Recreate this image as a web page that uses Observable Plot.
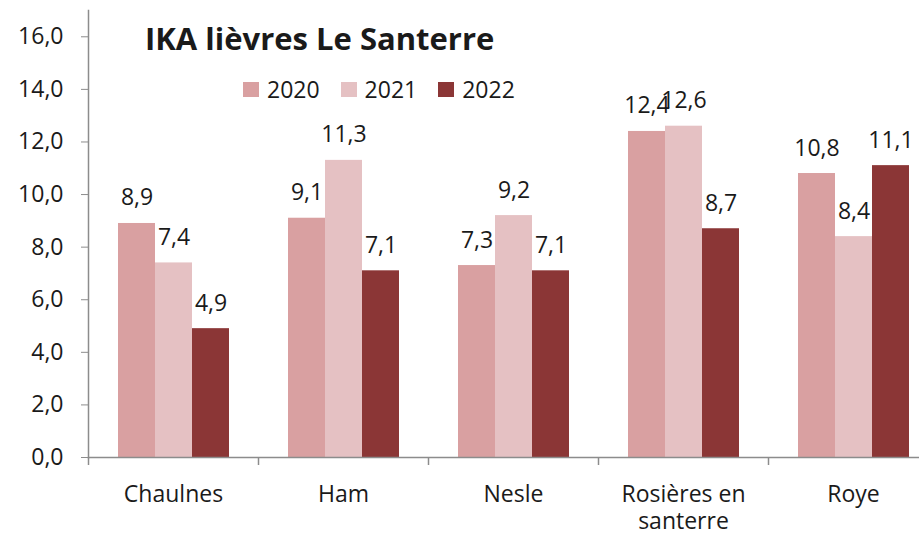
<!DOCTYPE html>
<html>
<head>
<meta charset="utf-8">
<script src="https://cdn.jsdelivr.net/npm/d3@7"></script>
<script src="https://cdn.jsdelivr.net/npm/@observablehq/plot@0.6"></script>
<style>
  body { margin: 0; background: #fff; }
  #wrap { position: relative; width: 919px; height: 534px; font-family: "Open Sans", sans-serif; color: #1a1a1a; overflow: hidden; }
  #title { position: absolute; left: 145px; top: 23px; font-weight: bold; font-size: 31px; line-height: 1; white-space: nowrap; }
  #legend { position: absolute; left: 243px; top: 78px; display: flex; font-size: 23px; line-height: 1; white-space: nowrap; }
  #legend .item { display: flex; align-items: center; margin-right: 21px; }
  #legend .sw { width: 16px; height: 15px; margin-right: 8px; }
  #chart { position: absolute; left: 0; top: 0; }
</style>
</head>
<body>
<div id="wrap">
  <div id="chart"></div>
  <div id="title"></div>
  <div id="legend"></div>
</div>
<script>
const titleText = "IKA lièvres Le Santerre";
const communes = ["Chaulnes", "Ham", "Nesle", "Rosières en santerre", "Roye"];
const years = ["2020", "2021", "2022"];
const v2020 = [8.9, 9.1, 7.3, 12.4, 10.8];
const v2021 = [7.4, 11.3, 9.2, 12.6, 8.4];
const v2022 = [4.9, 7.1, 7.1, 8.7, 11.1];
const colors = ["#d9a0a1", "#e5c1c3", "#8b3636"];
const yTicks = [0, 2, 4, 6, 8, 10, 12, 14, 16];

const series = [v2020, v2021, v2022];
const data = [];
communes.forEach((c, i) => years.forEach((y, k) => data.push({commune: c, year: y, value: series[k][i]})));

const fmt = d => d3.format(".1f")(d).replace(".", ",");
const wrapLabel = d => d.replace(" santerre", "\nsanterre");
const axisGray = "#8c8c8c";
const textColor = "#1a1a1a";

const chart = Plot.plot({
  width: 919,
  height: 534,
  marginLeft: 88,
  marginRight: -20,
  marginTop: 10,
  marginBottom: 77,
  style: {fontFamily: "Open Sans, sans-serif", fontSize: "23px", color: textColor, background: "transparent"},
  fx: {domain: communes, paddingInner: 0.34, paddingOuter: 0.17, label: null, axis: null},
  x: {domain: years, padding: 0, axis: null},
  y: {domain: [0, 17], axis: null, label: null},
  color: {domain: years, range: colors},
  marks: [
    Plot.barY(data, {fx: "commune", x: "year", y: "value", fill: "year"}),
    Plot.text(data, {fx: "commune", x: "year", y: "value", text: d => fmt(d.value), lineAnchor: "bottom", dy: -18, fill: textColor, fontSize: 23}),
    Plot.frame({anchor: "bottom", stroke: axisGray, strokeWidth: 1.5, insetLeft: -29, insetRight: -29, facet: "super"}),
    Plot.frame({anchor: "left", stroke: axisGray, strokeWidth: 1.5, insetLeft: -29, facet: "super"}),
    Plot.axisY({ticks: yTicks, tickFormat: fmt, tickSize: 7, tickPadding: 18, dx: -29, stroke: axisGray, fill: textColor, fontSize: 23, label: null}),
    Plot.axisFx({anchor: "bottom", tickSize: 0, tickPadding: 26, tickFormat: wrapLabel, lineHeight: 1.15, fontSize: 23, fill: textColor, label: null}),
    Plot.axisFx({anchor: "bottom", tickSize: 8, tickFormat: () => "", dx: -85, stroke: axisGray, strokeWidth: 1.5, label: null})
  ]
});
document.getElementById("chart").appendChild(chart);

document.getElementById("title").textContent = titleText;
const legend = document.getElementById("legend");
years.forEach((y, k) => {
  const item = document.createElement("div");
  item.className = "item";
  const sw = document.createElement("span");
  sw.className = "sw";
  sw.style.background = colors[k];
  const t = document.createElement("span");
  t.textContent = y;
  item.appendChild(sw);
  item.appendChild(t);
  legend.appendChild(item);
});
</script>
</body>
</html>
